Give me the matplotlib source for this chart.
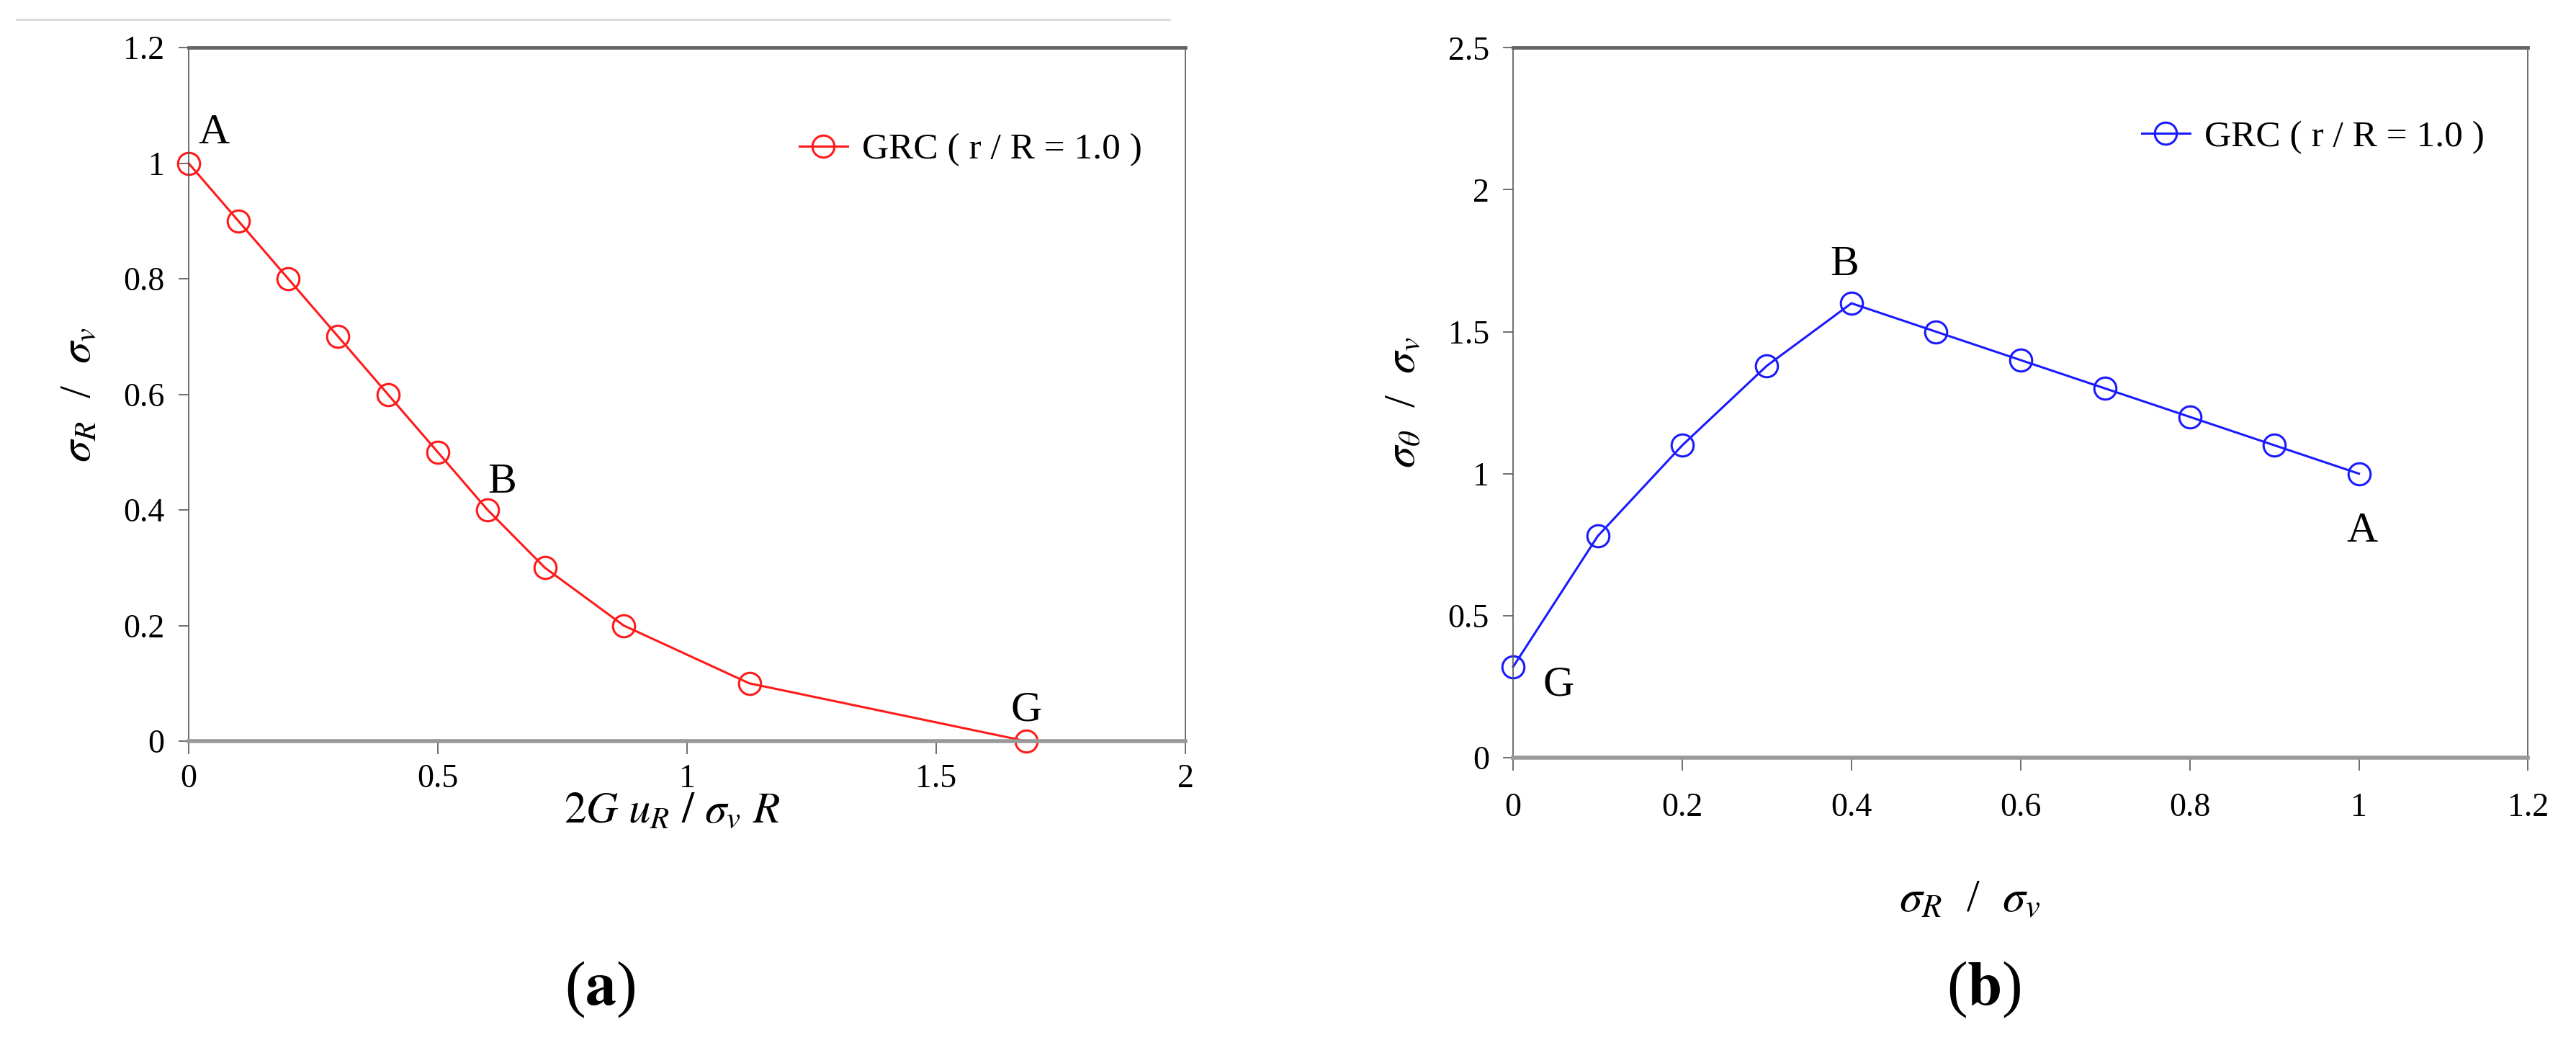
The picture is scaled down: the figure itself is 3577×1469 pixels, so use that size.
import matplotlib
matplotlib.use("Agg")
import matplotlib.pyplot as plt
from matplotlib.lines import Line2D

plt.rcParams['font.family'] = ['Liberation Serif', 'DejaVu Serif']
plt.rcParams['mathtext.fontset'] = 'stix'

# (a) ground reaction curve
u_norm = [0, 0.1, 0.2, 0.3, 0.4, 0.5, 0.6, 0.715, 0.873, 1.125, 1.68]
sr_a = [1.0, 0.9, 0.8, 0.7, 0.6, 0.5, 0.4, 0.3, 0.2, 0.1, 0.0]

# (b) stress path
sr_b = [0, 0.1, 0.2, 0.3, 0.4, 0.5, 0.6, 0.7, 0.8, 0.9, 1.0]
st_b = [0.32, 0.78, 1.1, 1.38, 1.6, 1.5, 1.4, 1.3, 1.2, 1.1, 1.0]

legend_txt = 'GRC ( r / R = 1.0 )'
fs = 33

fig = plt.figure(figsize=(35.77, 14.69), dpi=100)
ax1 = fig.add_axes([0.0732, 0.2995, 0.387, 0.6555])
ax2 = fig.add_axes([0.5874, 0.2839, 0.394, 0.671])

# faint line at very top of the left panel
fig.add_artist(Line2D([0.0065, 0.454], [0.9816, 0.9816], color='#d8d8d8', lw=2))


def style(ax, xpad):
    for s in ['left', 'right']:
        ax.spines[s].set_color('#555555')
        ax.spines[s].set_linewidth(1.2)
    ax.spines['top'].set_color('#666666')
    ax.spines['top'].set_linewidth(3.5)
    ax.spines['bottom'].set_color('#999999')
    ax.spines['bottom'].set_linewidth(4)
    ax.tick_params(axis='y', direction='out', length=10, width=1.2,
                   color='#555555', labelsize=fs, pad=14)
    ax.tick_params(axis='x', direction='out', length=13, width=1.2,
                   color='#555555', labelsize=fs, pad=xpad)


ax1.plot(u_norm, sr_a, color='#ff1a1a', lw=2.2, marker='o', ms=22,
         mfc='none', mec='#ff1a1a', mew=2.2, label=legend_txt, clip_on=False)
ax1.set_xlim(0, 2)
ax1.set_ylim(0, 1.2)
ax1.set_xticks([0, 0.5, 1, 1.5, 2])
ax1.set_xticklabels(['0', '0.5', '1', '1.5', '2'])
ax1.set_yticks([0, 0.2, 0.4, 0.6, 0.8, 1.0, 1.2])
ax1.set_yticklabels(['0', '0.2', '0.4', '0.6', '0.8', '1', '1.2'])
style(ax1, 10)
ax1.set_xlabel(r'$2G\ u_R\ /\ \sigma_v\ R$', fontsize=44)
ax1.xaxis.set_label_coords(0.485, -0.073)
ax1.set_ylabel(r'$\sigma_R$  /  $\sigma_v$', fontsize=44, labelpad=24)
ax1.legend(loc='upper right', bbox_to_anchor=(0.99, 0.925), frameon=False,
           fontsize=37, handlelength=1.3, handletextpad=0.4)
ax1.text(0.02, 1.035, 'A', fontsize=43)
ax1.text(0.6, 0.43, 'B', fontsize=43)
ax1.text(1.65, 0.035, 'G', fontsize=43)

ax2.plot(sr_b, st_b, color='#1a1aff', lw=2.2, marker='o', ms=22,
         mfc='none', mec='#1a1aff', mew=2.2, label=legend_txt, clip_on=False)
ax2.set_xlim(0, 1.2)
ax2.set_ylim(0, 2.5)
ax2.set_xticks([0, 0.2, 0.4, 0.6, 0.8, 1.0, 1.2])
ax2.set_xticklabels(['0', '0.2', '0.4', '0.6', '0.8', '1', '1.2'])
ax2.set_yticks([0, 0.5, 1.0, 1.5, 2.0, 2.5])
ax2.set_yticklabels(['0', '0.5', '1', '1.5', '2', '2.5'])
style(ax2, 22)
ax2.set_xlabel(r'$\sigma_R$  /  $\sigma_v$', fontsize=46)
ax2.xaxis.set_label_coords(0.45, -0.172)
ax2.set_ylabel(r'$\sigma_\theta$  /  $\sigma_v$', fontsize=44, labelpad=24)
ax2.legend(loc='upper right', bbox_to_anchor=(0.99, 0.945), frameon=False,
           fontsize=37, handlelength=1.3, handletextpad=0.4)
ax2.text(0.375, 1.7, 'B', fontsize=43)
ax2.text(0.985, 0.76, 'A', fontsize=43)
ax2.text(0.035, 0.22, 'G', fontsize=43)

fig.text(0.233, 0.05, r'($\mathbf{a}$)', fontsize=62, ha='center')
fig.text(0.770, 0.05, r'($\mathbf{b}$)', fontsize=62, ha='center')

fig.savefig('out.png', dpi=100, facecolor='white')
